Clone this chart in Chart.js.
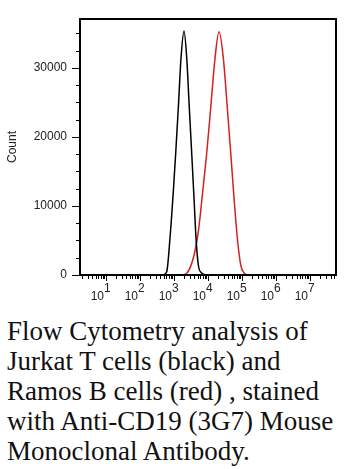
<!DOCTYPE html>
<html>
<head>
<meta charset="utf-8">
<script src="https://cdn.jsdelivr.net/npm/chart.js@4/dist/chart.umd.min.js"></script>
<style>
  html, body { margin: 0; padding: 0; background: #fff; }
  body { width: 364px; height: 469px; position: relative; overflow: hidden; }
  #wrap { position: absolute; left: 0; top: 0; width: 364px; height: 310px; }
  #caption {
    position: absolute; left: 7px; top: 316px; width: 360px;
    font-family: 'Liberation Serif', 'Times New Roman', Times, 'DejaVu Serif', serif;
    font-size: 27px; line-height: 30px; color: #111; white-space: nowrap;
  }
</style>
</head>
<body>
<div id="wrap"><canvas id="chart"></canvas></div>
<div id="caption">Flow Cytometry analysis of<br>Jurkat T cells (black) and<br>Ramos B cells (red) , stained<br>with Anti-CD19 (3G7) Mouse<br>Monoclonal Antibody.</div>
<script>
// fluorescence intensity (log axis) and event counts
const jurkatIntensity = [474, 610, 762, 953, 1122, 1337, 1607, 1968, 2366, 2818, 3311, 3873, 4436, 5188, 6531, 9120];
const jurkatCount     = [0, 480, 5360, 12070, 17680, 24200, 31440, 35360, 31440, 24200, 17680, 11160, 5360, 1450, 290, 0];

const ramosIntensity = [1683, 2366, 3698, 5188, 6982, 9162, 11995, 16069, 21086, 28184, 36983, 46559, 58210, 72778, 91622, 114551, 140281];
const ramosCount     = [0, 250, 2460, 6280, 12070, 17680, 24200, 31440, 35260, 31440, 24200, 17680, 11160, 5360, 1450, 290, 0];

const decadeExponents = [1, 2, 3, 4, 5, 6, 7];
const countLabels = [0, 10000, 20000, 30000];
const xMin = 1.72;
const xMax = 5.8e7;
const yMax = 37100;

function toPoints(xs, ys) {
    return xs.map((x, i) => ({ x: x, y: ys[i] }));
}

// frame, tick marks and axis labels
const framePlugin = {
    id: 'frame',
    afterDraw(chart) {
        const ctx = chart.ctx;
        const area = chart.chartArea;
        const xs = chart.scales.x;
        const ys = chart.scales.y;
        ctx.save();
        ctx.strokeStyle = '#000';

        // y ticks every 2500
        ctx.lineWidth = 1;
        for (let v = 0; v <= yMax; v += 2500) {
            const py = Math.round(ys.getPixelForValue(v)) + 0.5;
            const len = countLabels.includes(v) ? 8 : 4;
            ctx.beginPath();
            ctx.moveTo(area.left - len, py);
            ctx.lineTo(area.left, py);
            ctx.stroke();
        }

        // x ticks
        xs.ticks.forEach(t => {
            const px = Math.round(xs.getPixelForValue(t.value)) + 0.5;
            const len = t.major ? 6 : 4;
            ctx.beginPath();
            ctx.moveTo(px, area.bottom);
            ctx.lineTo(px, area.bottom + len);
            ctx.stroke();
        });

        ctx.fillStyle = '#222';
        ctx.font = '12px "Liberation Sans", Arial, sans-serif';

        // count labels
        ctx.textAlign = 'right';
        ctx.textBaseline = 'middle';
        countLabels.forEach(v => {
            ctx.fillText(String(v), area.left - 13, ys.getPixelForValue(v));
        });

        // decade labels
        ctx.textBaseline = 'alphabetic';
        decadeExponents.forEach(e => {
            const px = xs.getPixelForValue(Math.pow(10, e));
            ctx.textAlign = 'right';
            ctx.fillText('10', px - 2, 300);
            ctx.textAlign = 'left';
            ctx.fillText(String(e), px - 2, 292);
        });

        // box
        ctx.lineWidth = 2;
        ctx.strokeRect(area.left, area.top, area.right - area.left, area.bottom - area.top);
        ctx.restore();
    }
};

new Chart(document.getElementById('chart'), {
    type: 'line',
    data: {
        datasets: [
            {
                label: 'Jurkat T cells',
                data: toPoints(jurkatIntensity, jurkatCount),
                borderColor: '#000000',
                borderWidth: 1.5,
                pointRadius: 0,
                cubicInterpolationMode: 'monotone',
                fill: false
            },
            {
                label: 'Ramos B cells',
                data: toPoints(ramosIntensity, ramosCount),
                borderColor: '#d42020',
                borderWidth: 1.5,
                pointRadius: 0,
                cubicInterpolationMode: 'monotone',
                fill: false
            }
        ]
    },
    options: {
        responsive: true,
        maintainAspectRatio: false,
        animation: false,
        layout: { padding: { left: 0, top: 19, right: 28, bottom: 0 } },
        plugins: {
            legend: { display: false },
            tooltip: { enabled: false }
        },
        scales: {
            x: {
                type: 'logarithmic',
                min: xMin,
                max: xMax,
                border: { display: false },
                grid: { display: false, drawTicks: false },
                ticks: { display: false },
                afterBuildTicks(scale) {
                    const ticks = [];
                    for (let e = 0; e <= 7; e++) {
                        for (let m = 1; m <= 9; m++) {
                            const v = m * Math.pow(10, e);
                            if (v >= xMin && v <= xMax) ticks.push({ value: v, major: m === 1 });
                        }
                    }
                    scale.ticks = ticks;
                },
                afterFit(scale) { scale.height = 35; }
            },
            y: {
                min: 0,
                max: yMax,
                border: { display: false },
                grid: { display: false, drawTicks: false },
                ticks: { display: false },
                title: {
                    display: true,
                    text: 'Count',
                    color: '#222',
                    font: { family: '"Liberation Sans", Arial, sans-serif', size: 12 },
                    padding: { top: 5, bottom: 0 }
                },
                afterFit(scale) { scale.width = 80; }
            }
        }
    },
    plugins: [framePlugin]
});
</script>
</body>
</html>
